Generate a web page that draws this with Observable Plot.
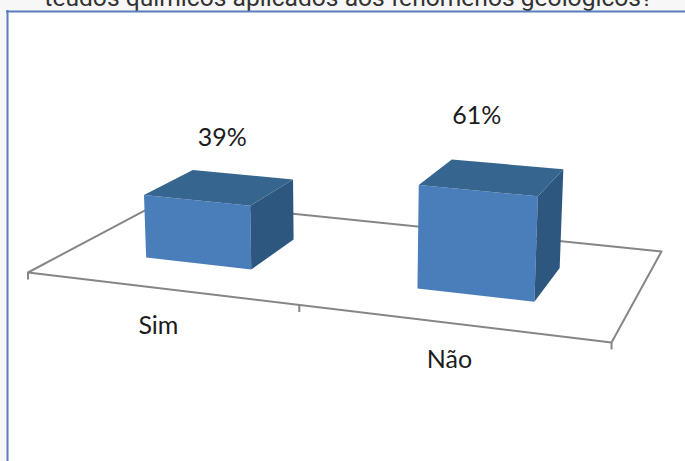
<!DOCTYPE html>
<html>
<head>
<meta charset="utf-8">
<script src="https://cdn.jsdelivr.net/npm/d3@7"></script>
<script src="https://cdn.jsdelivr.net/npm/@observablehq/plot@0.6"></script>
<style>html,body{margin:0;padding:0;background:#f7f7f7;overflow:hidden}svg{display:block}</style>
</head>
<body>
<div id="chart"></div>
<script>
// Data
const categories = ["Sim", "Não"];
const values = [39, 61];
const valueLabels = ["39%", "61%"];
const headline = "teúdos químicos aplicados aos fenômenos geológicos?";

// Camera of the 3-D chart: homography from the floor (u, v) and vertical column for height
const cam = {
  a: 518.4, b: 165.2, c: 27.5,
  d: 33.5, e: -35.5, f: 272,
  g: -0.1066, h: 0.1824,
  cx: -0.099, cy: -1.72, cw: -0.000287
};
function project(u, v, w = 0) {
  const W = cam.g * u + cam.h * v + 1 + w * cam.cw;
  return [
    (cam.a * u + cam.b * v + cam.c + w * cam.cx) / W,
    (cam.d * u + cam.e * v + cam.f + w * cam.cy) / W
  ];
}

const barHalf = 0.1, barShift = -0.004, vFront = 0.29, vBack = 0.675;
const slot = i => (i + 0.5) / categories.length;

const faces = [];
function addFace(id, kind, corners) {
  for (const [u, v, w] of corners) {
    const [x, y] = project(u, v, w);
    faces.push({id, kind, x, y});
  }
}
categories.forEach((cat, i) => {
  const u0 = slot(i) + barShift - barHalf, u1 = slot(i) + barShift + barHalf, h = values[i];
  addFace(cat + "-front", "front", [[u0, vFront, 0], [u1, vFront, 0], [u1, vFront, h], [u0, vFront, h]]);
  addFace(cat + "-side", "side", [[u1, vFront, 0], [u1, vBack, 0], [u1, vBack, h], [u1, vFront, h]]);
  addFace(cat + "-top", "top", [[u0, vFront, h], [u1, vFront, h], [u1, vBack, h], [u0, vBack, h]]);
});

const floor = [[0, 0], [1, 0], [1, 1], [0, 1], [0, 0]].map(([u, v]) => {
  const [x, y] = project(u, v);
  return {x, y};
});
const tickU = [0, 0.493, 1];
const ticks = tickU.map(u => {
  const [x, y] = project(u, 0);
  return {x, y};
});

const valueNudge = [[0, -49], [-18.5, -61]];
const valueMarks = categories.map((c, i) => {
  const [x, y] = project(slot(i), (vFront + vBack) / 2, values[i]);
  return {x: x + valueNudge[i][0], y: y + valueNudge[i][1], label: valueLabels[i]};
});
const catMarks = categories.map((c, i) => {
  const [x, y] = project(slot(i), 0);
  return {x: x - 3.5, y: y + 37, label: c};
});

const faceColor = {front: "#4a7ebb", side: "#2e5780", top: "#36668f"};
const fontFamily = "Lato, 'Open Sans', sans-serif";

const plot = Plot.plot({
  width: 685, height: 461,
  margin: 0,
  style: {background: "#f7f7f7"},
  x: {domain: [0, 685], range: [0, 685], axis: null},
  y: {domain: [0, 461], range: [0, 461], axis: null},
  marks: [
    Plot.text([headline], {
      x: () => 348, y: () => 5, text: d => d, fontSize: 24.6,
      fontFamily: "Roboto, sans-serif", fill: "#333", textAnchor: "middle", lineAnchor: "bottom"
    }),
    Plot.rect([0], {x1: () => 7, x2: () => 685, y1: () => 11, y2: () => 461, fill: "white"}),
    Plot.ruleX([7], {y1: 10, y2: 461, stroke: "#5b7fbd", strokeWidth: 2}),
    Plot.ruleY([11], {x1: 6, x2: 685, stroke: "#5b7fbd", strokeWidth: 2}),
    Plot.line(floor, {x: "x", y: "y", stroke: "#868686", strokeWidth: 2}),
    Plot.link(ticks, {
      x1: "x", y1: "y", x2: "x", y2: d => d.y + 7, stroke: "#868686", strokeWidth: 2
    }),
    Plot.line(faces, {x: "x", y: "y", z: "id", fill: d => faceColor[d.kind], stroke: null}),
    Plot.text(valueMarks, {x: "x", y: "y", text: "label", fontSize: 25, fontFamily, fill: "#1c1c1c"}),
    Plot.text(catMarks, {x: "x", y: "y", text: "label", fontSize: 25, fontFamily, fill: "#1c1c1c"})
  ]
});
document.getElementById("chart").appendChild(plot);
</script>
</body>
</html>
